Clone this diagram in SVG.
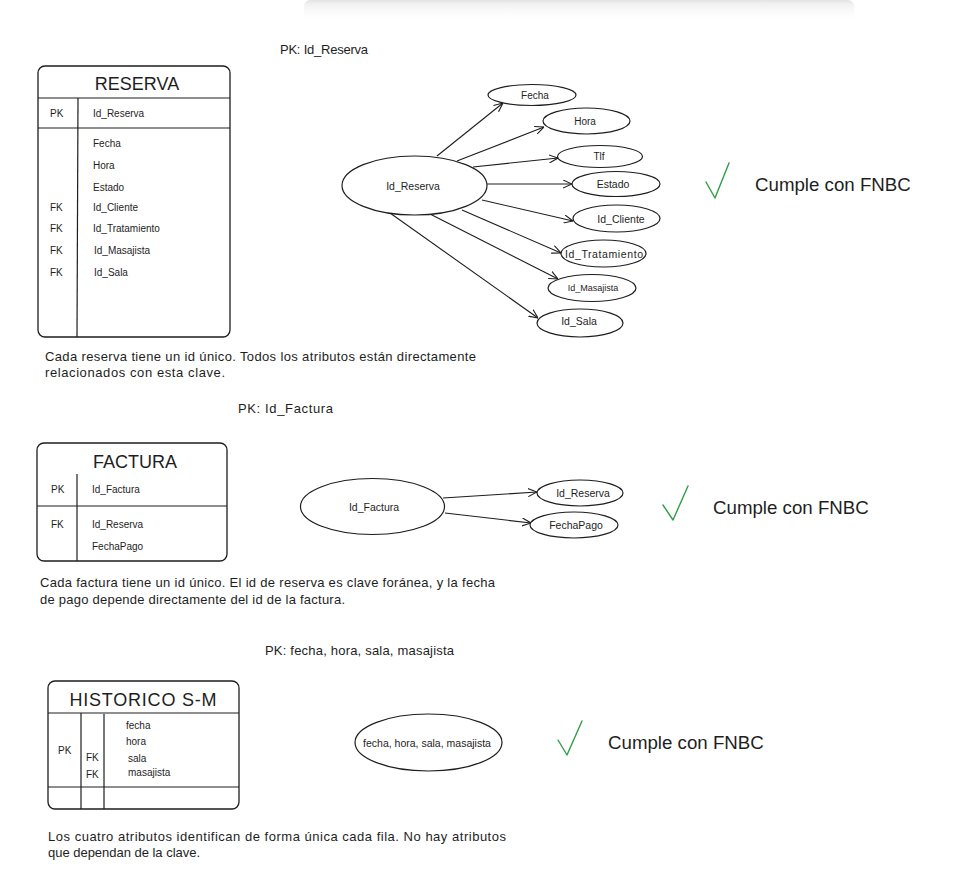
<svg xmlns="http://www.w3.org/2000/svg" width="980" height="892" viewBox="0 0 980 892">
<defs>
<style>
.t{font-family:"Liberation Sans",Arial,sans-serif;fill:#1e1e1e}
.s10{font-size:10px}
.s105{font-size:10.5px}
.s9{font-size:9px}
.s13{font-size:13px}
.s18{font-size:18px}
.s19{font-size:18.7px}
.c{text-anchor:middle}
.ln{stroke:#1e1e1e;stroke-width:1.2;fill:none}
.box{stroke:#1e1e1e;stroke-width:1.3;fill:none}
.ell{stroke:#1e1e1e;stroke-width:1.2;fill:#ffffff}
.chk{stroke:#2f9e44;stroke-width:1.4;fill:none;stroke-linecap:round;stroke-linejoin:round}
.arr{stroke:#1e1e1e;stroke-width:1.1;fill:none;marker-end:url(#ah)}
</style>
<marker id="ah" viewBox="0 0 10 10" refX="10" refY="5" markerWidth="9" markerHeight="9" markerUnits="userSpaceOnUse" orient="auto">
<path d="M0,0.5 L10,5 L0,9.5" fill="none" stroke="#1e1e1e" stroke-width="1.2"/>
</marker>
<linearGradient id="sh" x1="0" y1="0" x2="0" y2="1">
<stop offset="0" stop-color="#e2e2e2"/>
<stop offset="0.15" stop-color="#efefef"/>
<stop offset="1" stop-color="#ffffff" stop-opacity="0"/>
</linearGradient>
</defs>
<rect width="980" height="892" fill="#ffffff"/>
<rect x="304" y="0" width="550" height="22" fill="url(#sh)" rx="6"/>

<!-- RESERVA section -->
<g id="pk-reserva"><text class="t s13" x="280" y="53.5" textLength="88">PK: Id_Reserva</text></g>
<g id="tabla-reserva">
<rect class="box" x="38" y="66" width="192" height="271" rx="7"/>
<line class="ln" x1="38" y1="98" x2="230" y2="98"/>
<line class="ln" x1="38" y1="128" x2="230" y2="128"/>
<line class="ln" x1="78" y1="98" x2="77" y2="337"/>
<text class="t s18 c" x="137" y="90">RESERVA</text>
<text class="t s10" x="50" y="116.5">PK</text>
<text class="t s10" x="93" y="116.5">Id_Reserva</text>
<text class="t s10" x="93" y="146.5">Fecha</text>
<text class="t s10" x="93" y="168.5">Hora</text>
<text class="t s10" x="93" y="190.5">Estado</text>
<text class="t s10" x="50" y="210.5">FK</text>
<text class="t s10" x="93" y="210.5">Id_Cliente</text>
<text class="t s10" x="50" y="231.5">FK</text>
<text class="t s10" x="93" y="231.5">Id_Tratamiento</text>
<text class="t s10" x="50" y="253.5">FK</text>
<text class="t s10" x="94" y="253.5">Id_Masajista</text>
<text class="t s10" x="50" y="275.5">FK</text>
<text class="t s10" x="94" y="275.5">Id_Sala</text>
</g>
<g id="desc-reserva">
<text class="t s13" x="45" y="360.5" textLength="431">Cada reserva tiene un id único. Todos los atributos están directamente</text>
<text class="t s13" x="45" y="376.5" textLength="180">relacionados con esta clave.</text>
</g>

<g id="connectors">
<line class="arr" x1="437" y1="156" x2="503" y2="103"/>
<line class="arr" x1="457" y1="161" x2="544" y2="127"/>
<line class="arr" x1="473" y1="167" x2="558" y2="158"/>
<line class="arr" x1="487" y1="184" x2="572" y2="184"/>
<line class="arr" x1="482" y1="200" x2="573" y2="221"/>
<line class="arr" x1="462" y1="210" x2="561" y2="253"/>
<line class="arr" x1="430" y1="214" x2="558" y2="279"/>
<line class="arr" x1="390" y1="213" x2="538" y2="318"/>
<line class="arr" x1="443" y1="498" x2="537" y2="492"/>
<line class="arr" x1="445" y1="513" x2="531" y2="523"/>
</g>

<g id="e-id-reserva"><ellipse class="ell" cx="414.5" cy="185.5" rx="72.5" ry="29.5"/><text class="t s105 c" x="413" y="190">Id_Reserva</text></g>
<g id="e-fecha"><ellipse class="ell" cx="532" cy="95" rx="44" ry="10.5"/><text class="t s10 c" x="535" y="98.5">Fecha</text></g>
<g id="e-hora"><ellipse class="ell" cx="586.5" cy="121" rx="43.5" ry="13"/><text class="t s10 c" x="585" y="125">Hora</text></g>
<g id="e-tlf"><ellipse class="ell" cx="600" cy="156.5" rx="42.5" ry="11"/><text class="t s10 c" x="599" y="160">Tlf</text></g>
<g id="e-estado"><ellipse class="ell" cx="616" cy="184" rx="44" ry="12.5"/><text class="t s105 c" x="613" y="188">Estado</text></g>
<g id="e-cliente"><ellipse class="ell" cx="616.5" cy="218.5" rx="43.5" ry="13.5"/><text class="t s105 c" x="621" y="222.5">Id_Cliente</text></g>
<g id="e-tratamiento"><ellipse class="ell" cx="603.5" cy="253.5" rx="42.5" ry="13.5"/><text class="t s105 c" x="604" y="257.5" textLength="78">Id_Tratamiento</text></g>
<g id="e-masajista"><ellipse class="ell" cx="592" cy="288" rx="44" ry="13.5"/><text class="t s9 c" x="593" y="291">Id_Masajista</text></g>
<g id="e-sala"><ellipse class="ell" cx="580" cy="323" rx="43" ry="14"/><text class="t s105 c" x="579" y="325">Id_Sala</text></g>

<g id="ok-reserva">
<polyline class="chk" points="706,182 715,198 729,163"/>
<text class="t s19" x="755" y="190.5">Cumple con FNBC</text>
</g>

<!-- FACTURA section -->
<g id="pk-factura"><text class="t s13" x="238" y="412.5" textLength="95">PK: Id_Factura</text></g>
<g id="tabla-factura">
<rect class="box" x="37" y="443" width="190" height="118" rx="7"/>
<line class="ln" x1="37" y1="506" x2="227" y2="506"/>
<line class="ln" x1="77" y1="474" x2="77" y2="561"/>
<text class="t s18 c" x="135" y="468">FACTURA</text>
<text class="t s10" x="51" y="492.5">PK</text>
<text class="t s10" x="92" y="492.5">Id_Factura</text>
<text class="t s10" x="51" y="527.5">FK</text>
<text class="t s10" x="92" y="527.5">Id_Reserva</text>
<text class="t s10" x="92" y="549.5">FechaPago</text>
</g>
<g id="desc-factura">
<text class="t s13" x="40" y="587" textLength="455">Cada factura tiene un id único. El id de reserva es clave foránea, y la fecha</text>
<text class="t s13" x="40" y="604" textLength="305">de pago depende directamente del id de la factura.</text>
</g>
<g id="e-id-factura"><ellipse class="ell" cx="372.5" cy="506.5" rx="72" ry="28"/><text class="t s105 c" x="374" y="510.5">Id_Factura</text></g>
<g id="e-f-reserva"><ellipse class="ell" cx="580" cy="493" rx="43" ry="13"/><text class="t s105 c" x="583" y="497">Id_Reserva</text></g>
<g id="e-fechapago"><ellipse class="ell" cx="574" cy="525" rx="44" ry="13"/><text class="t s105 c" x="576" y="529">FechaPago</text></g>
<g id="ok-factura">
<polyline class="chk" points="663,505 673,520 688,486"/>
<text class="t s19" x="713" y="513.5">Cumple con FNBC</text>
</g>

<!-- HISTORICO section -->
<g id="pk-historico"><text class="t s13" x="265" y="654.5" textLength="189">PK: fecha, hora, sala, masajista</text></g>
<g id="tabla-historico">
<rect class="box" x="48" y="681" width="191" height="128" rx="7"/>
<line class="ln" x1="48" y1="713" x2="239" y2="713"/>
<line class="ln" x1="48" y1="787" x2="239" y2="787"/>
<line class="ln" x1="81" y1="713" x2="81" y2="809"/>
<line class="ln" x1="104" y1="714" x2="104" y2="809"/>
<text class="t s18 c" x="143" y="706" textLength="147">HISTORICO S-M</text>
<text class="t s10" x="58" y="753.5">PK</text>
<text class="t s10" x="86" y="760.5">FK</text>
<text class="t s10" x="86" y="777.5">FK</text>
<text class="t s10" x="126" y="728.5">fecha</text>
<text class="t s10" x="126" y="744.5">hora</text>
<text class="t s10" x="128" y="761.5">sala</text>
<text class="t s10" x="128" y="775.5">masajista</text>
</g>
<g id="desc-historico">
<text class="t s13" x="48" y="841" textLength="458">Los cuatro atributos identifican de forma única cada fila. No hay atributos</text>
<text class="t s13" x="48" y="857" textLength="152">que dependan de la clave.</text>
</g>
<g id="e-historico"><ellipse class="ell" cx="428.5" cy="742.5" rx="73.5" ry="28.5"/><text class="t s105 c" x="427" y="746.5">fecha, hora, sala, masajista</text></g>
<g id="ok-historico">
<polyline class="chk" points="558,740 567,755 582,721"/>
<text class="t s19" x="608" y="748.5">Cumple con FNBC</text>
</g>
</svg>
